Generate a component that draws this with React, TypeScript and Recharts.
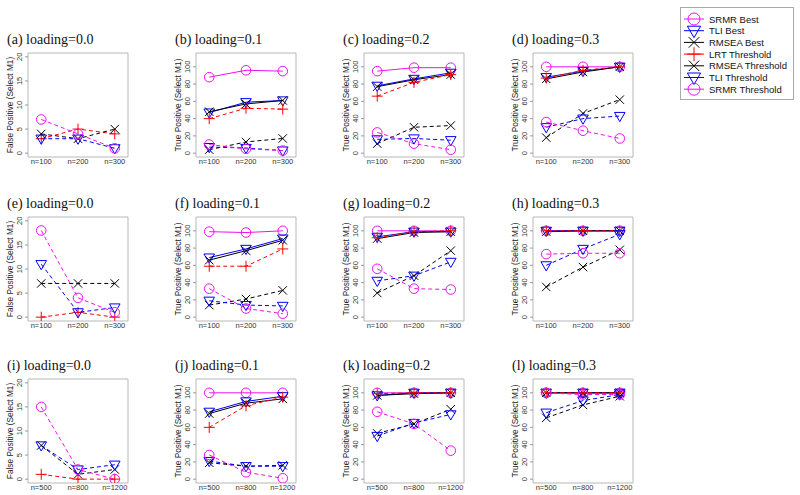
import { LineChart, Line, XAxis, YAxis, ReferenceArea } from 'recharts';

// panels (a)..(l), read row by row
const panelTitles = [
  '(a) loading=0.0', '(b) loading=0.1', '(c) loading=0.2', '(d) loading=0.3',
  '(e) loading=0.0', '(f) loading=0.1', '(g) loading=0.2', '(h) loading=0.3',
  '(i) loading=0.0', '(j) loading=0.1', '(k) loading=0.2', '(l) loading=0.3',
];
const smallN = ['n=100', 'n=200', 'n=300'];
const largeN = ['n=500', 'n=800', 'n=1200'];
const fpTitle = 'False Positive (Select M1)';
const tpTitle = 'True Positive (Select M1)';
const fpTicks = [0, 5, 10, 15, 20];
const tpTicks = [0, 20, 40, 60, 80, 100];

const seriesNames = [
  'SRMR Best', 'TLI Best', 'RMSEA Best', 'LRT Threshold',
  'RMSEA Threshold', 'TLI Threshold', 'SRMR Threshold',
];

// one entry per panel; null = series not shown (false positive panels)
const srmrBest = [
  null, [88, 96, 95], [95, 99, 99], [100, 100, 100],
  null, [99, 98, 100], [100, 100, 100], [100, 100, 100],
  null, [100, 100, 100], [100, 100, 100], [100, 100, 100],
];
const tliBest = [
  null, [47, 59, 61], [78, 86, 93], [88, 95, 100],
  null, [69, 79, 91], [93, 99, 99], [100, 100, 100],
  null, [78, 90, 96], [97, 100, 100], [100, 100, 100],
];
const rmseaBest = [
  null, [48, 57, 61], [77, 85, 91], [86, 94, 100],
  null, [66, 77, 89], [91, 98, 99], [99, 100, 100],
  null, [76, 88, 93], [97, 99, 100], [100, 100, 100],
];
const lrtThreshold = [
  [3, 5, 4], [40, 52, 51], [66, 82, 91], [87, 96, 100],
  [0, 1, 0], [59, 59, 79], [92, 99, 100], [100, 100, 100],
  [1, 0, 0], [60, 85, 95], [99, 100, 100], [100, 100, 100],
];
const rmseaThreshold = [
  [4, 3, 5], [4, 13, 17], [11, 30, 32], [18, 46, 62],
  [7, 7, 7], [14, 21, 31], [28, 48, 77], [35, 58, 78],
  [7, 1, 2], [19, 15, 16], [53, 64, 81], [71, 86, 96],
];
const tliThreshold = [
  [3, 3, 1], [7, 6, 3], [16, 17, 15], [30, 40, 43],
  [11, 1, 2], [19, 14, 13], [42, 48, 64], [60, 79, 96],
  [7, 2, 3], [21, 15, 15], [50, 65, 75], [77, 91, 98],
];
const srmrThreshold = [
  [7, 4, 1], [10, 5, 3], [24, 11, 4], [36, 26, 17],
  [18, 4, 1], [33, 10, 4], [56, 33, 32], [73, 74, 74],
  [15, 2, 0], [28, 8, 1], [78, 64, 33], [100, 98, 98],
];

const MAGENTA = '#ee10ee';
const BLUE = '#0000ff';
const RED = '#ff0000';
const BLACK = '#000000';
const FONT = 'Liberation Sans, Arial, Helvetica, sans-serif';
const SERIF = 'Liberation Serif, Times New Roman, serif';

type Shape = 'circle' | 'triangle' | 'cross' | 'plus';

const SERIES: { key: string; name: string; values: (number[] | null)[]; color: string; dashed: boolean; shape: Shape }[] = [
  { key: 'srmrBest', name: seriesNames[0], values: srmrBest, color: MAGENTA, dashed: false, shape: 'circle' },
  { key: 'tliBest', name: seriesNames[1], values: tliBest, color: BLUE, dashed: false, shape: 'triangle' },
  { key: 'rmseaBest', name: seriesNames[2], values: rmseaBest, color: BLACK, dashed: false, shape: 'cross' },
  { key: 'lrt', name: seriesNames[3], values: lrtThreshold, color: RED, dashed: true, shape: 'plus' },
  { key: 'rmseaThr', name: seriesNames[4], values: rmseaThreshold, color: BLACK, dashed: true, shape: 'cross' },
  { key: 'tliThr', name: seriesNames[5], values: tliThreshold, color: BLUE, dashed: true, shape: 'triangle' },
  { key: 'srmrThr', name: seriesNames[6], values: srmrThreshold, color: MAGENTA, dashed: true, shape: 'circle' },
];

// layout of the plot boxes
const colLefts = [28, 196, 364, 533];
const rowTops = [53, 217, 379];
const BOX_W = 100;
const BOX_H = 104;
const AXIS_W = 30;
const AXIS_H = 16;
const PAD = 4;
const X_DOMAIN: [number, number] = [0.64, 3.36];
const FP_DOMAIN: [number, number] = [-0.8, 20.8];
const TP_DOMAIN: [number, number] = [-4.45, 116];

function drawMarker(shape: Shape, cx: number, cy: number, color: string, k = 1, key?: string) {
  const sw = 1;
  if (shape === 'circle') {
    return <circle key={key} cx={cx} cy={cy} r={4.8 * k} fill="none" stroke={color} strokeWidth={sw} />;
  }
  if (shape === 'triangle') {
    const pts = `${cx - 5.3 * k},${cy - 3.6 * k} ${cx + 5.3 * k},${cy - 3.6 * k} ${cx},${cy + 5.6 * k}`;
    return <polygon key={key} points={pts} fill="none" stroke={color} strokeWidth={sw} />;
  }
  if (shape === 'cross') {
    const d = 4.2 * k;
    return (
      <g key={key}>
        <line x1={cx - d} y1={cy - d} x2={cx + d} y2={cy + d} stroke={color} strokeWidth={sw} />
        <line x1={cx - d} y1={cy + d} x2={cx + d} y2={cy - d} stroke={color} strokeWidth={sw} />
      </g>
    );
  }
  const d = 5.5 * k;
  return (
    <g key={key}>
      <line x1={cx - d} y1={cy} x2={cx + d} y2={cy} stroke={color} strokeWidth={sw} />
      <line x1={cx} y1={cy - d} x2={cx} y2={cy + d} stroke={color} strokeWidth={sw} />
    </g>
  );
}

function YTick(props: any) {
  const { x, y, payload } = props;
  const bx = x - 1;
  return (
    <text x={bx} y={y} transform={`rotate(-90 ${bx} ${y})`} textAnchor="middle" fill="#333" style={{ fontSize: 7.5, fontFamily: FONT }}>
      {payload.value}
    </text>
  );
}

function XTick(props: any) {
  const { x, y, payload, labels } = props;
  return (
    <text x={x} y={y + 6} textAnchor="middle" fill="#333" style={{ fontSize: 7.5, fontFamily: FONT }}>
      {labels[payload.value - 1]}
    </text>
  );
}

function Panel({ index }: { index: number }) {
  const row = Math.floor(index / 4);
  const col = index % 4;
  const fp = col === 0;
  const labels = row === 2 ? largeN : smallN;
  const shown = SERIES.filter((s) => s.values[index]);
  const data = labels.map((_, i) => {
    const d: Record<string, number> = { x: i + 1 };
    shown.forEach((s) => {
      d[s.key] = (s.values[index] as number[])[i];
    });
    return d;
  });
  const yDomain = fp ? FP_DOMAIN : TP_DOMAIN;
  return (
    <div style={{ position: 'absolute', left: colLefts[col] - AXIS_W, top: rowTops[row] - PAD }}>
      <LineChart
        width={AXIS_W + BOX_W + PAD}
        height={PAD + BOX_H + AXIS_H}
        data={data}
        margin={{ top: PAD, right: PAD, bottom: 0, left: 0 }}
      >
        <XAxis
          type="number"
          dataKey="x"
          domain={X_DOMAIN}
          ticks={[1, 2, 3]}
          allowDataOverflow
          height={AXIS_H}
          axisLine={false}
          tickLine={false}
          tickSize={1}
          tickMargin={0}
          interval={0}
          tick={<XTick labels={labels} />}
        />
        <YAxis
          type="number"
          domain={yDomain}
          ticks={fp ? fpTicks : tpTicks}
          allowDataOverflow
          width={AXIS_W}
          axisLine={false}
          tickLine={{ stroke: '#999' }}
          tickSize={3}
          tickMargin={2}
          interval={0}
          tick={<YTick />}
        />
        <ReferenceArea
          x1={X_DOMAIN[0]}
          x2={X_DOMAIN[1]}
          y1={yDomain[0]}
          y2={yDomain[1]}
          fill="none"
          stroke="#b8b8b8"
          strokeWidth={1}
          ifOverflow="visible"
        />
        {shown.map((s) => (
          <Line
            key={s.key}
            type="linear"
            dataKey={s.key}
            stroke={s.color}
            strokeWidth={1}
            strokeDasharray={s.dashed ? '4 3' : undefined}
            dot={(p: any) => drawMarker(s.shape, p.cx, p.cy, s.color, 1, `${s.key}-${p.index}`)}
            activeDot={false}
            isAnimationActive={false}
          />
        ))}
      </LineChart>
    </div>
  );
}

function LegendBox() {
  return (
    <div style={{ position: 'absolute', left: 680, top: 7, width: 112, height: 91, border: '1px solid #aaa', background: '#fff' }}>
      <svg width={112} height={91}>
        {SERIES.map((s, i) => {
          const cy = 11 + i * 11.7;
          return (
            <g key={s.key}>
              <line x1={3} x2={23} y1={cy} y2={cy} stroke={s.color} strokeWidth={1} />
              {drawMarker(s.shape, 13, cy, s.color, 1.25)}
              <text x={28} y={cy + 3.5} fill="#111" style={{ fontSize: 9.5, fontFamily: FONT }}>
                {s.name}
              </text>
            </g>
          );
        })}
      </svg>
    </div>
  );
}

export default function App() {
  return (
    <div style={{ position: 'absolute', left: 0, top: 0, width: 800, height: 495, background: '#fff', overflow: 'hidden' }}>
      {panelTitles.map((_, i) => (
        <Panel key={i} index={i} />
      ))}
      <svg width={800} height={495} style={{ position: 'absolute', left: 0, top: 0, pointerEvents: 'none' }}>
        {panelTitles.map((t, i) => {
          const row = Math.floor(i / 4);
          const col = i % 4;
          const bl = colLefts[col];
          const bt = rowTops[row];
          const yx = bl - 18;
          const yy = bt + BOX_H / 2;
          return (
            <g key={t + i}>
              <text x={bl - 21} y={bt - 9} fill="#111" style={{ fontSize: 14, fontFamily: SERIF }}>
                {t}
              </text>
              <text
                x={yx + 3}
                y={yy}
                transform={`rotate(-90 ${yx + 3} ${yy})`}
                textAnchor="middle"
                fill="#222"
                style={{ fontSize: 8.3, fontFamily: FONT }}
              >
                {col === 0 ? fpTitle : tpTitle}
              </text>
            </g>
          );
        })}
      </svg>
      <LegendBox />
    </div>
  );
}
